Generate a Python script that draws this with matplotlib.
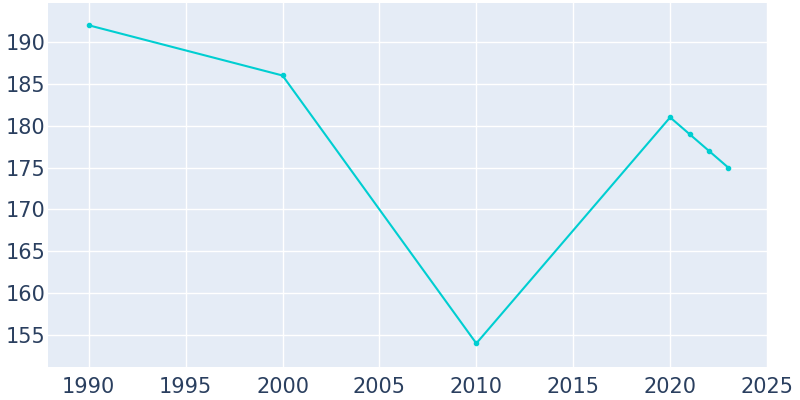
import matplotlib
matplotlib.use("Agg")
import matplotlib.pyplot as plt

years = [1990, 2000, 2010, 2020, 2021, 2022, 2023]
population = [192, 186, 154, 181, 179, 177, 175]
x_ticks = [1990, 1995, 2000, 2005, 2010, 2015, 2020, 2025]
y_ticks = [155, 160, 165, 170, 175, 180, 185, 190]

fig = plt.figure(figsize=(8, 4), dpi=100)
ax = fig.add_axes([0.06, 0.0825, 0.90, 0.91])
ax.set_facecolor("#E5ECF6")
ax.plot(years, population, color="#00CED1", linewidth=1.5, marker="o", markersize=3, zorder=3)
ax.set_xlim(1987.9, 2025.05)
ax.set_ylim(151.18, 194.66)
ax.set_xticks(x_ticks)
ax.set_yticks(y_ticks)
ax.grid(True, color="white", linewidth=1)
ax.set_axisbelow(True)
for s in ax.spines.values():
    s.set_visible(False)
ax.tick_params(length=0, labelsize=15, colors="#2a3f5f")
ax.tick_params(axis="x", pad=7)
ax.tick_params(axis="y", pad=2)
fig.savefig("out.png", dpi=100)
